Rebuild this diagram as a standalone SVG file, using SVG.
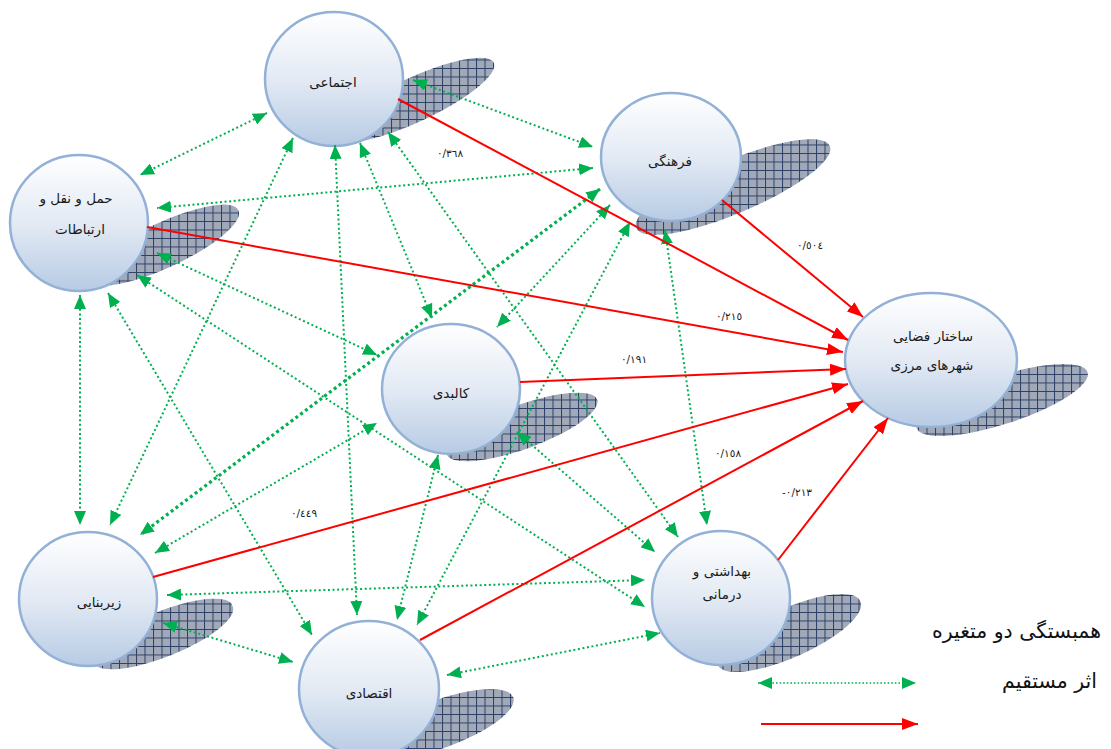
<svg xmlns="http://www.w3.org/2000/svg" width="1111" height="749" viewBox="0 0 1111 749">
<style>
.node{fill:url(#ng);stroke:#93b1d6;stroke-width:2.5}
.shadow{fill:url(#hatch)}
.lbl{font-family:"DejaVu Sans",sans-serif;font-size:13.5px;fill:#1a1a1a;text-anchor:middle}
.num{font-family:"DejaVu Sans",sans-serif;font-size:10.5px;fill:#1a1a1a;text-anchor:middle}
.leg{font-family:"DejaVu Sans",sans-serif;font-size:20.5px;fill:#111;text-anchor:end}
.cor{stroke:#00b050;stroke-width:2;stroke-dasharray:2 2.6;fill:none;marker-start:url(#ga);marker-end:url(#ga)}
.eff{stroke:#ff0000;stroke-width:2;fill:none;marker-end:url(#ra)}
</style>
<defs>
<linearGradient id="ng" x1="0" y1="0" x2="0" y2="1">
<stop offset="0" stop-color="#ffffff"/>
<stop offset="0.5" stop-color="#e3eaf4"/>
<stop offset="1" stop-color="#b7cbe4"/>
</linearGradient>
<pattern id="hatch" patternUnits="userSpaceOnUse" width="8.5" height="8.5">
<rect width="8.5" height="8.5" fill="#a1a9b8"/>
<path d="M0,0.5H8.5M0.5,0V8.5" stroke="#2c4068" stroke-width="1"/>
</pattern>
<marker id="ga" markerUnits="userSpaceOnUse" viewBox="0 0 14 12" markerWidth="14" markerHeight="12" refX="14" refY="6" orient="auto-start-reverse">
<path d="M0,0L14,6L0,12z" fill="#00b050"/>
</marker>
<marker id="ra" markerUnits="userSpaceOnUse" viewBox="0 0 16 12" markerWidth="16" markerHeight="12" refX="16" refY="6" orient="auto">
<path d="M0,0L16,6L0,12z" fill="#ff0000"/>
</marker>
</defs>
<rect width="1111" height="749" fill="#ffffff"/>

<g id="n-ejtemai">
<path class="shadow" d="M334.3,137.2A88,22,-25,1,0,493.8,62.8A88,22,-25,1,0,334.3,137.2Z"/>
<ellipse class="node" cx="334" cy="79" rx="69" ry="67"/>
<text class="lbl" x="333" y="87">اجتماعی</text>
</g>
<g id="n-farhangi">
<path class="shadow" d="M636.4,228A105,26,-23,1,0,829.7,146A105,26,-23,1,0,636.4,228Z"/>
<ellipse class="node" cx="671" cy="157" rx="70" ry="64"/>
<text class="lbl" x="670" y="166">فرهنگی</text>
</g>
<g id="n-haml">
<path class="shadow" d="M89.7,279.7A82,22,-25,1,0,238.3,210.4A82,22,-25,1,0,89.7,279.7Z"/>
<ellipse class="node" cx="79" cy="223" rx="69" ry="68"/>
<text class="lbl" x="76" y="203">حمل و نقل و</text>
<text class="lbl" x="80" y="234">ارتباطات</text>
</g>
<g id="n-sakhtar">
<path class="shadow" d="M916.4,427.8A90,24,-18,1,0,1087.6,372.2A90,24,-18,1,0,916.4,427.8Z"/>
<ellipse class="node" cx="931" cy="360" rx="86" ry="67"/>
<text class="lbl" x="933" y="341">ساختار فضایی</text>
<text class="lbl" x="932" y="370">شهرهای مرزی</text>
</g>
<g id="n-kalbadi">
<path class="shadow" d="M446.8,454.4A80,22,-20,1,0,597.2,399.6A80,22,-20,1,0,446.8,454.4Z"/>
<ellipse class="node" cx="451" cy="389" rx="69" ry="65"/>
<text class="lbl" x="451" y="398">کالبدی</text>
</g>
<g id="n-zirbanai">
<path class="shadow" d="M93.5,662.1A75,22,-22,1,0,232.5,605.9A75,22,-22,1,0,93.5,662.1Z"/>
<ellipse class="node" cx="88" cy="599" rx="69" ry="67"/>
<text class="lbl" x="99" y="607">زیربنایی</text>
</g>
<g id="n-behdasht">
<path class="shadow" d="M717.8,664.7A78,24,-24,1,0,860.3,601.3A78,24,-24,1,0,717.8,664.7Z"/>
<ellipse class="node" cx="721" cy="598" rx="69" ry="67"/>
<text class="lbl" x="722" y="576">بهداشتی و</text>
<text class="lbl" x="722" y="599">درمانی</text>
</g>
<g id="n-eqtesadi">
<path class="shadow" d="M366.7,750.7A78,24,-20,1,0,513.3,697.3A78,24,-20,1,0,366.7,750.7Z"/>
<ellipse class="node" cx="369" cy="689" rx="70" ry="68"/>
<text class="lbl" x="369" y="698">اقتصادی</text>
</g>

<g id="connectors">
<line class="cor" x1="267" y1="113" x2="140" y2="175"/>
<line class="cor" x1="413" y1="80" x2="593" y2="147"/>
<line class="cor" x1="293" y1="138" x2="110" y2="525"/>
<line class="cor" x1="335" y1="145" x2="357" y2="615"/>
<line class="cor" x1="360" y1="143" x2="432" y2="318"/>
<line class="cor" x1="388" y1="132" x2="678" y2="537"/>
<line class="cor" x1="593" y1="168" x2="157" y2="208"/>
<line class="cor" x1="600" y1="189" x2="140" y2="535" style="stroke-width:3.2;stroke-dasharray:3 3"/>
<line class="cor" x1="610" y1="205" x2="497" y2="327"/>
<line class="cor" x1="630" y1="222" x2="417" y2="625"/>
<line class="cor" x1="665" y1="230" x2="707" y2="525"/>
<line class="cor" x1="157" y1="253" x2="377" y2="355"/>
<line class="cor" x1="137" y1="275" x2="645" y2="607"/>
<line class="cor" x1="80" y1="295" x2="80" y2="525"/>
<line class="cor" x1="108" y1="293" x2="312" y2="635"/>
<line class="cor" x1="155" y1="553" x2="377" y2="423"/>
<line class="cor" x1="167" y1="595" x2="645" y2="580"/>
<line class="cor" x1="163" y1="623" x2="293" y2="662"/>
<line class="cor" x1="438" y1="455" x2="397" y2="620"/>
<line class="cor" x1="517" y1="432" x2="655" y2="552"/>
<line class="cor" x1="447" y1="675" x2="660" y2="633"/>

<line class="eff" x1="398" y1="99" x2="848" y2="340"/>
<line class="eff" x1="722" y1="200" x2="863" y2="317"/>
<line class="eff" x1="147" y1="227" x2="843" y2="352"/>
<line class="eff" x1="520" y1="382" x2="846" y2="369"/>
<line class="eff" x1="153" y1="577" x2="848" y2="384"/>
<line class="eff" x1="420" y1="640" x2="863" y2="401"/>
<line class="eff" x1="778" y1="560" x2="888" y2="418"/>
</g>

<g id="labels">
<text class="num" x="450" y="157">٠/٣٦٨</text>
<text class="num" x="810" y="249">٠/٥٠٤</text>
<text class="num" x="729" y="320">٠/٢١٥</text>
<text class="num" x="634" y="363">٠/١٩١</text>
<text class="num" x="728" y="457">٠/١٥٨</text>
<text class="num" x="797" y="496">-٠/٢١٣</text>
<text class="num" x="304" y="517">٠/٤٤٩</text>
</g>

<g id="legend">
<text class="leg" x="1101" y="638">همبستگی دو متغیره</text>
<text class="leg" x="1097" y="688">اثر مستقیم</text>
<line class="cor" x1="758" y1="683" x2="916" y2="683" style="stroke-width:1.6;stroke-dasharray:1.6 2"/>
<line class="eff" x1="761" y1="724" x2="918" y2="724"/>
</g>
</svg>
